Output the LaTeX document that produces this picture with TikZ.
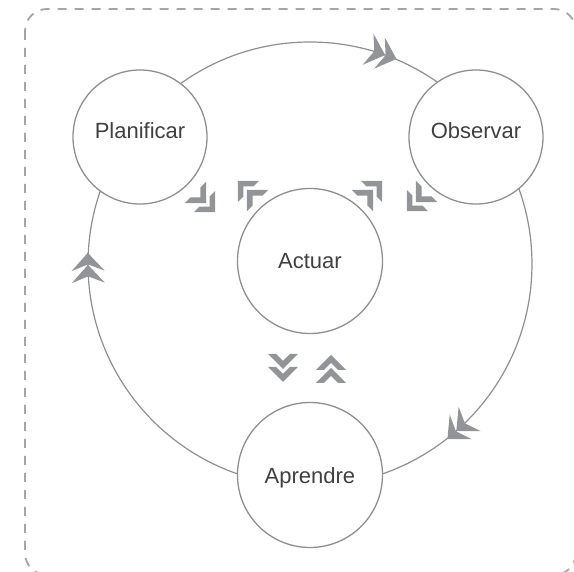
\documentclass[tikz,border=0pt]{standalone}
\usepackage{fontspec}
\setmainfont{Liberation Sans}
\usetikzlibrary{positioning}
\definecolor{ringgray}{HTML}{8E8F93}
\definecolor{arrowgray}{HTML}{939498}
\definecolor{framegray}{HTML}{A5A5A8}
\definecolor{textgray}{HTML}{404042}

\begin{document}
\begin{tikzpicture}[x=1pt, y=1pt, on grid,
        stage/.style={draw=ringgray, line width=1.3pt, circle, fill=white, inner sep=0pt,
            text=textgray, font=\fontsize{22}{26}\selectfont},
        small/.style={stage, minimum size=134pt, text height=10pt, text depth=6pt},
        big/.style={stage, minimum size=145pt},
        dblchev/.pic={
            \foreach \f in {21.5, 8.5}
                \fill[arrowgray] (\f,0) -- (\f-15,15) -- (\f-15,7) -- (\f-8,0) -- (\f-15,-7) -- (\f-15,-15) -- cycle;
        },
        dblbarb/.pic={
            \foreach \f in {15, 3}
                \fill[arrowgray] (\f,0) -- (\f-18,16.5) -- (\f-11.5,0) -- (\f-18,-16.5) -- cycle;
        }]
            \useasboundingbox (-310,-311) rectangle (264,261);
            \draw[framegray, line width=1.8pt, dash pattern=on 9pt off 8pt, rounded corners=22pt]
                (-285,252) rectangle (266,-314);

            \node[big] (A) at (0,0) {Actuar};
            \coordinate[below=3pt of A] (ringc);
            \draw[ringgray, line width=1.2pt] (ringc) circle (222pt);

            \node[small, above left=124pt and 170pt of A] (P) {Planificar};
            \node[small, above right=124pt and 166pt of A] (O) {Observar};
            \node[big, below=214pt of A, text height=18pt, text depth=0pt] (L) {Aprendre};

            % arrows on the ring
            \pic[rotate=-19] at ([shift={(71:222pt)}]ringc) {dblbarb};
            \pic[rotate=-138] at ([shift={(-48:222pt)}]ringc) {dblbarb};
            \pic[rotate=91] at ([shift={(181:222pt)}]ringc) {dblbarb};

            % arrows to and from Actuar
            \pic[rotate=-45] at (-110,64) {dblchev};
            \pic[rotate=135] at (-57,65) {dblchev};
            \pic[rotate=45] at (57,65) {dblchev};
            \pic[rotate=-135] at (112,65) {dblchev};
            \pic[rotate=-90] at (-27,-99.5) {dblchev};
            \pic[rotate=90] at (21,-115.5) {dblchev};
        \end{tikzpicture}
\end{document}
